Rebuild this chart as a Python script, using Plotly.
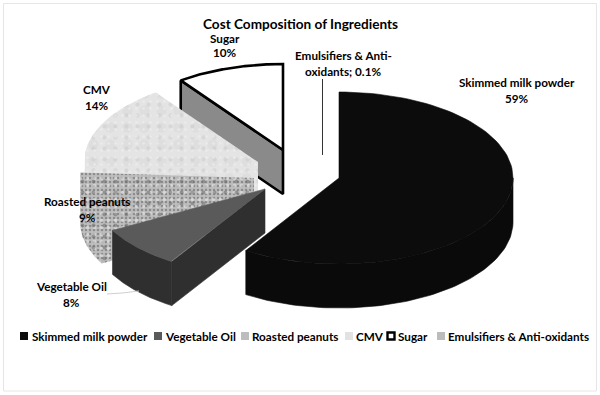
import numpy as np
import plotly.graph_objects as go

title = "Cost Composition of Ingredients"
categories = ["Skimmed milk powder", "Vegetable Oil", "Roasted peanuts", "CMV", "Sugar", "Emulsifiers & Anti-oxidants"]
values = [59, 8, 9, 14, 10, 0.1]

# Layout of the drawing (pixel-like axis units)
RX, RY, DEPTH = 174, 86, 44
centers = [(339, 178), (265, 189), (254, 178), (258, 162), (283, 150)]
top_colors = ["#0c0c0c", "#5a5a5a", None, None, "#ffffff"]
side_colors = ["#0a0a0a", "#2f2f2f", None, None, "#8a8a8a"]

PEANUT = ("#bdbdbd", [dict(shape=".", size=4, solidity=0.3, fgcolor="#5a5a5a", bgcolor="rgba(0,0,0,0)"),
                      dict(shape=".", size=7, solidity=0.18, fgcolor="#f0f0f0", bgcolor="rgba(0,0,0,0)"),
                      dict(shape=".", size=11, solidity=0.1, fgcolor="#666666", bgcolor="rgba(0,0,0,0)")])
MARBLE = ("#e4e4e4", [dict(shape=".", size=17, solidity=0.3, fgcolor="#d8d8d8", bgcolor="rgba(0,0,0,0)"),
                      dict(shape=".", size=11, solidity=0.12, fgcolor="#cacaca", bgcolor="rgba(0,0,0,0)"),
                      dict(shape=".", size=7, solidity=0.12, fgcolor="#f2f2f2", bgcolor="rgba(0,0,0,0)")])
textures = {2: PEANUT, 3: MARBLE}

fig = go.Figure()


def add_poly(xs, ys, color, line=None, lw=0.6):
    fig.add_trace(go.Scatter(x=xs, y=ys, mode="lines", fill="toself", fillcolor=color,
                             line=dict(color=line or color, width=lw), hoverinfo="skip"))


def add_textured(xs, ys, tex):
    base, patterns = tex
    add_poly(xs, ys, base, None, 0)
    for p in patterns:
        fig.add_trace(go.Scatter(x=xs, y=ys, mode="lines", fill="toself", fillcolor="rgba(0,0,0,0)",
                                 fillpattern=p, line=dict(width=0), hoverinfo="skip"))


def pt(c, a):
    r = np.radians(a)
    return c[0] + RX * np.sin(r), c[1] - RY * np.cos(r)


cum = np.concatenate([[0], np.cumsum(values)]) * 3.6

# Paint back to front: Sugar, CMV, Peanuts, Oil, Milk powder
for i in [4, 3, 2, 1, 0]:
    c = centers[i]
    a0, a1 = cum[i], cum[i + 1]
    tex = textures.get(i)
    if tex:
        # a single outline for top and sides, so that the texture stays continuous
        wall_end = max(a0, 270)
        tb = np.linspace(a0, wall_end, 60)
        xb, yb = pt(c, tb)
        tt = np.linspace(wall_end, a1, 80)
        xt, yt = pt(c, tt)
        add_textured(np.r_[c[0], c[0], xb, xt, c[0]],
                     np.r_[c[1], c[1] + DEPTH, yb + DEPTH, yt, c[1]], tex)
        continue
    outline = "#000000" if i == 4 else None
    lw = 2.6 if i == 4 else 0.6
    # start cut face
    if 180 < a0 < 360:
        x, y = pt(c, a0)
        add_poly([c[0], x, x, c[0], c[0]], [c[1], y, y + DEPTH, c[1] + DEPTH, c[1]],
                 side_colors[i], outline, lw)
    # end cut face
    if 0 < a1 < 180:
        x, y = pt(c, a1)
        add_poly([c[0], x, x, c[0], c[0]], [c[1], y, y + DEPTH, c[1] + DEPTH, c[1]], side_colors[i])
    # outer wall
    w0, w1 = max(a0, 90), min(a1, 270)
    if w1 > w0:
        t = np.linspace(w0, w1, 80)
        x, y = pt(c, t)
        add_poly(np.r_[x, x[::-1], x[0]], np.r_[y, y[::-1] + DEPTH, y[0]], side_colors[i])
    # top face
    t = np.linspace(a0, a1, 100)
    x, y = pt(c, t)
    add_poly(np.r_[c[0], x, c[0]], np.r_[c[1], y, c[1]], top_colors[i], outline, lw)

# Leader lines
fig.add_trace(go.Scatter(x=[322.5, 322.5], y=[79, 155], mode="lines",
                         line=dict(color="#333333", width=1), hoverinfo="skip"))
fig.add_trace(go.Scatter(x=[107, 122, 139], y=[294, 293, 291], mode="lines",
                         line=dict(color="#cfcfcf", width=1), hoverinfo="skip"))

# Legend row
key_x = [24, 158, 245, 349, 391, 441]
text_x = [30, 163, 250, 354, 396, 446]
LEG_Y = 336
key_fill = ["#0c0c0c", "#5a5a5a", "#bdbdbd", "#e2e2e2", "#ffffff", "#bcbcbc"]
key_line = [0, 0, 0, 0, 2.4, 0]
for kx, f, lw in zip(key_x, key_fill, key_line):
    fig.add_trace(go.Scatter(x=[kx], y=[LEG_Y], mode="markers", hoverinfo="skip",
                             marker=dict(symbol="square", size=7 if lw else 8, color=f,
                                         line=dict(color="#000000", width=lw))))

FONT = "Lato"
def label(x, y, text, size=11.7, anchor="center"):
    fig.add_annotation(x=x, y=y, text=text, showarrow=False, xanchor=anchor, yanchor="middle",
                       font=dict(family=FONT, size=size, color="#000000", weight="bold"), align="center")

for cat, tx in zip(categories, text_x):
    label(tx, LEG_Y, cat, 11.7, "left")

label(300, 24, title, 13.6)
lab_pos = [(517, 82, 98), (71, 286, 302), (87, 201, 217), (97, 89, 105), (225, 38, 52)]
for (x, y1, y2), cat, v in zip(lab_pos, categories, values):
    label(x, y1, cat)
    label(x, y2, f"{v}%")
label(343, 55, "Emulsifiers & Anti-")
label(343, 71, f"oxidants; {values[5]}%")

fig.update_layout(
    width=600, height=395, margin=dict(l=0, r=0, t=0, b=0), showlegend=False,
    paper_bgcolor="#ffffff", plot_bgcolor="#ffffff",
    xaxis=dict(range=[0, 600], visible=False, fixedrange=True),
    yaxis=dict(range=[395, 0], visible=False, fixedrange=True),
    shapes=[dict(type="rect", x0=3.5, y0=3.5, x1=596.5, y1=391, line=dict(color="#e6e6e6", width=1), layer="below")],
)
fig.write_html("out.html", config={"displayModeBar": False},
               post_script="document.body.style.margin='0';")
